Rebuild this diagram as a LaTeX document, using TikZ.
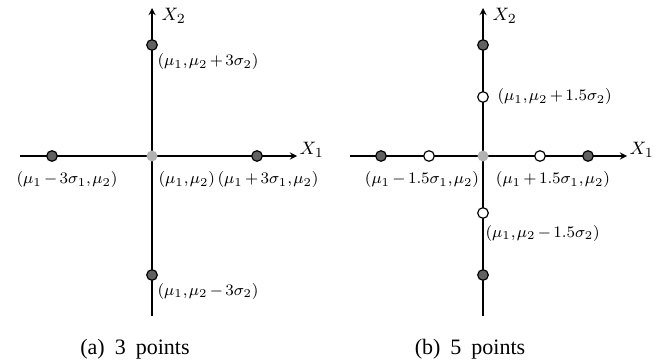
\documentclass[tikz,border=0pt]{standalone}
\usepackage{fontspec}
\setmainfont{Liberation Serif}
\usetikzlibrary{arrows,positioning}
\newcommand\tightmath{\medmuskip=2.5mu\relax\thinmuskip=1.5mu\relax}

\begin{document}
\begin{tikzpicture}[
    x=0.5pt,y=-0.5pt,
    line width=0.6pt,
    arrow/.style={->,>=stealth},
    ptdark/.style={circle,draw,fill=black!62,minimum size=5.3pt,inner sep=0pt},
    pthollow/.style={circle,draw,fill=white,minimum size=5.3pt,inner sep=0pt},
    ptmean/.style={circle,fill=black!30,minimum size=5.5pt,inner sep=0pt},
    lab/.style={font=\fontsize{8.5}{9}\selectfont\tightmath,inner sep=0pt},
    axlab/.style={font=\fontsize{9.5}{10}\selectfont,inner sep=0pt},
    captext/.style={font=\fontsize{11}{12}\selectfont,inner sep=0pt}
]
    \useasboundingbox (0,0) rectangle (663,363);

    % (a) 3 points
    \coordinate (aW) at (20,156);
    \coordinate (aE) at (297,156);
    \coordinate (aS) at (152,316);
    \coordinate (aN) at (152,8);
    \draw[arrow] (aW) -- (aE);
    \draw[arrow] (aS) -- (aN);
    \node[ptmean] (amean) at (152,156) {};
    \node[ptdark] (aup) at (152,45) {};
    \node[ptdark] (adown) at (152,275) {};
    \node[ptdark] (aleft) at (52,156) {};
    \node[ptdark] (aright) at (257,156) {};
    \node[axlab,anchor=west] (ax2) at (161,16) {$X_2$};
    \node[axlab,anchor=west] (ax1) at (299,150) {$X_1$};
    \node[lab,anchor=west] (lup) at (157,62) {$(\mu_1,\mu_2+3\sigma_2)$};
    \node[lab] (lleft) at (67,180) {$(\mu_1-3\sigma_1,\mu_2)$};
    \node[lab,anchor=west] (lmean) at (158,180) {$(\mu_1,\mu_2)$};
    \node[lab,anchor=west] (lright) at (217,180) {$(\mu_1+3\sigma_1,\mu_2)$};
    \node[lab,anchor=west] (ldown) at (157,291) {$(\mu_1,\mu_2-3\sigma_2)$};
    \node[captext] (capa) at (135,349) {(a)\hspace{5pt}3\hspace{5pt}points};

    % (b) 5 points
    \coordinate (bW) at (350,156);
    \coordinate (bE) at (627,156);
    \coordinate (bS) at (483,316);
    \coordinate (bN) at (483,8);
    \draw[arrow] (bW) -- (bE);
    \draw[arrow] (bS) -- (bN);
    \node[ptmean] (bmean) at (483,156) {};
    \node[ptdark] (bup) at (483,45) {};
    \node[pthollow] (bupin) at (483,97) {};
    \node[pthollow] (bdownin) at (483,213) {};
    \node[ptdark] (bdown) at (483,275) {};
    \node[ptdark] (bleft) at (381,156) {};
    \node[pthollow] (bleftin) at (429,156) {};
    \node[pthollow] (brightin) at (540,156) {};
    \node[ptdark] (bright) at (588,156) {};
    \node[axlab,anchor=west] (bx2) at (492,16) {$X_2$};
    \node[axlab,anchor=west] (bx1) at (629,150) {$X_1$};
    \node[lab,anchor=west] (mup) at (497,97) {$(\mu_1,\mu_2+1.5\sigma_2)$};
    \node[lab] (mleft) at (422,180) {$(\mu_1-1.5\sigma_1,\mu_2)$};
    \node[lab] (mright) at (553,180) {$(\mu_1+1.5\sigma_1,\mu_2)$};
    \node[lab,anchor=west] (mdown) at (485,233) {$(\mu_1,\mu_2-1.5\sigma_2)$};
    \node[captext] (capb) at (470,349) {(b)\hspace{5pt}5\hspace{5pt}points};
\end{tikzpicture}
\end{document}
